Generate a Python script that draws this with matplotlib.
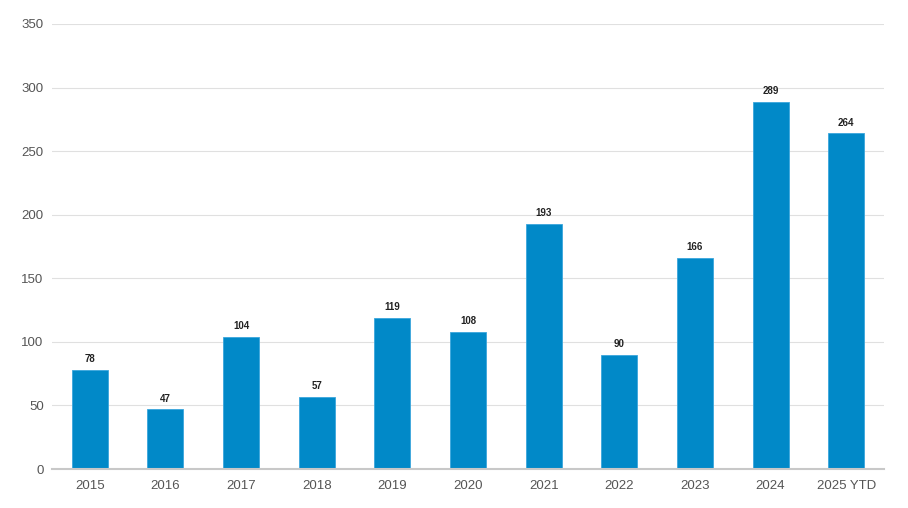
import matplotlib
matplotlib.use("Agg")
import matplotlib.pyplot as plt

categories = ["2015", "2016", "2017", "2018", "2019", "2020", "2021", "2022", "2023", "2024", "2025 YTD"]
values = [78, 47, 104, 57, 119, 108, 193, 90, 166, 289, 264]
yticks = [0, 50, 100, 150, 200, 250, 300, 350]

plt.rcParams['font.family'] = ['Liberation Sans', 'DejaVu Sans']

fig = plt.figure(figsize=(9.08, 5.08), dpi=100)
ax = fig.add_axes([52/908, 1-469/508, (884-52)/908, (469-24)/508])

x = range(len(categories))
bars = ax.bar(x, values, width=0.476, color="#0189C8", edgecolor="#3aa6dc", linewidth=0.6, zorder=3)
for xi, v in zip(x, values):
    ax.annotate(str(v), (xi, v), xytext=(0, 4), textcoords="offset points",
                ha="center", va="bottom", fontsize=7, fontweight="bold", color="#222222")

ax.set_xlim(-0.5, len(categories) - 0.5)
ax.set_ylim(0, 350)
ax.set_yticks(yticks)
ax.set_xticks(list(x))
ax.set_xticklabels(categories)
ax.grid(axis="y", color="#e0e0e0", linewidth=0.8, zorder=0)
for s in ["top", "right", "left"]:
    ax.spines[s].set_visible(False)
ax.spines["bottom"].set_color("#c8c8c8")
ax.spines["bottom"].set_linewidth(1.5)
ax.spines["bottom"].set_zorder(4)
ax.tick_params(axis="both", length=0, labelsize=9.5, labelcolor="#555555")
ax.tick_params(axis="x", pad=8)
ax.tick_params(axis="y", pad=6)

fig.savefig("out.png", dpi=100)
